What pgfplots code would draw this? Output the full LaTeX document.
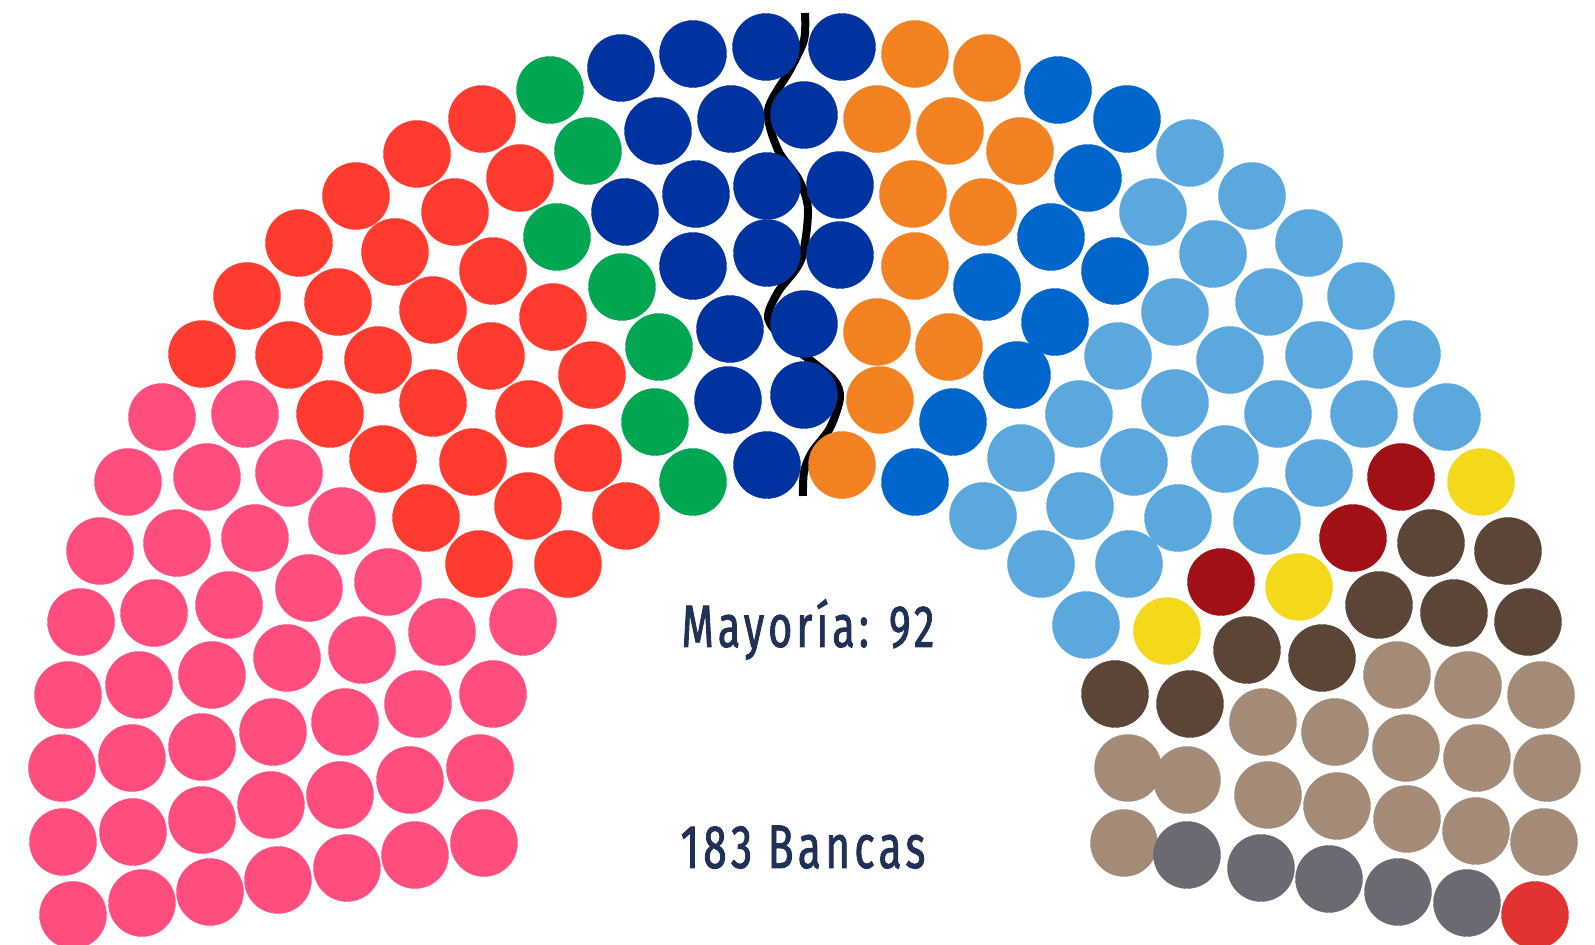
\documentclass[border=0pt]{standalone}
\usepackage{pgfplots}
\pgfplotsset{compat=1.18}
\usepackage{fontspec}
\newfontfamily\labfont{Fira Sans}[FakeStretch=0.69, LetterSpace=7, FakeBold=1.4]
\definecolor{cpink}{RGB}{255,77,126}
\definecolor{cred}{RGB}{255,58,46}
\definecolor{cgreen}{RGB}{0,166,81}
\definecolor{cdblue}{RGB}{0,51,160}
\definecolor{corange}{RGB}{242,129,34}
\definecolor{cmblue}{RGB}{0,102,204}
\definecolor{clblue}{RGB}{91,168,223}
\definecolor{cdred}{RGB}{160,16,21}
\definecolor{cyellow}{RGB}{244,216,27}
\definecolor{cbrown}{RGB}{91,69,55}
\definecolor{ctan}{RGB}{163,139,120}
\definecolor{cgray}{RGB}{107,106,114}
\definecolor{cbred}{RGB}{226,50,50}
\definecolor{navy}{RGB}{31,49,87}
\pgfplotsset{seat/.style={only marks, mark=*, mark size=3.35mm, mark options={solid, fill=#1, draw=#1, line width=0.1pt}}}
\begin{document}
\begin{tikzpicture}
\begin{axis}[
  scale only axis, width=15.95cm, height=9.45cm,
  xmin=0, xmax=1595, ymin=0, ymax=945, y dir=reverse,
  hide axis, clip=false,
]
\addplot[seat=cpink] coordinates {
(162,417) (245,414) (128,482) (207,477) (289,473) (100,551) (177,543) (255,538) (342,521)
(81,622) (154,613) (229,605) (309,588) (388,582) (68,695) (139,685) (212,675) (287,658)
(362,650) (442,632) (523,622) (62,768) (132,758) (202,747) (273,732) (345,722) (418,704)
(493,694) (63,842) (133,832) (202,820) (271,805) (340,795) (410,780) (480,768) (73,915)
(142,903) (210,892) (278,880) (347,868) (415,855) (484,843)};
\addplot[seat=cred] coordinates {
(482,119) (417,154) (520,178) (356,196) (455,212) (299,243) (395,252) (493,271) (247,296)
(338,302) (433,310) (553,317) (202,354) (289,355) (378,360) (491,356) (592,375) (330,414)
(433,403) (529,414) (383,459) (473,462) (588,458) (426,518) (528,506) (626,516) (479,564)
(568,564)};
\addplot[seat=cgreen] coordinates {
(550,90) (588,151) (557,237) (622,287) (659,347) (655,422) (693,482)};
\addplot[seat=cdblue] coordinates {
(621,68) (693,54) (766,47) (842,47) (658,131) (731,119) (804,115) (625,212) (696,194)
(767,186) (840,185) (693,266) (767,253) (840,255) (730,329) (804,324) (728,400) (804,395)
(767,465)};
\addplot[seat=corange] coordinates {
(915,54) (987,68) (877,119) (950,131) (1020,151) (913,194) (983,212) (915,266) (877,332)
(949,347) (880,400) (842,465)};
\addplot[seat=cmblue] coordinates {
(1058,90) (1127,119) (1088,178) (1051,237) (1115,271) (987,287) (1055,322) (1017,375)
(953,422) (915,482)};
\addplot[seat=clblue] coordinates {
(1190,153) (1252,196) (1309,243) (1361,296) (1407,354) (1447,417) (1153,212) (1213,254)
(1269,302) (1319,355) (1364,414) (1175,312) (1230,360) (1278,414) (1319,473) (1118,356)
(1175,403) (1225,459) (1267,521) (1079,414) (1134,462) (1178,518) (1021,458) (1080,506)
(1129,564) (983,516) (1041,564) (1086,625)};
\addplot[seat=cdred] coordinates {(1401,477) (1353,538) (1221,582)};
\addplot[seat=cyellow] coordinates {(1481,482) (1299,587) (1167,631)};
\addplot[seat=cbrown] coordinates {
(1431,543) (1508,551) (1379,605) (1454,613) (1528,622) (1247,650) (1322,658) (1115,694)
(1190,704)};
\addplot[seat=ctan] coordinates {
(1397,675) (1468,685) (1541,695) (1263,722) (1335,732) (1406,748) (1477,758) (1547,768)
(1128,768) (1187,780) (1268,795) (1337,806) (1407,819) (1476,831) (1544,842) (1124,843)};
\addplot[seat=cgray] coordinates {(1187,855) (1261,868) (1329,879) (1398,892) (1467,903)};
\addplot[seat=cbred] coordinates {(1535,915)};
% majority line
\addplot[smooth, white, line width=1.2mm] coordinates {
(805,13) (804,40) (790,70) (768,110) (778,150) (799,180) (808,210) (801,260) (778,292)
(768,318) (784,340) (810,360) (834,380) (840,398) (830,428) (812,452) (804,472) (803,496)};
\addplot[smooth, black, line width=0.8mm] coordinates {
(805,13) (804,40) (790,70) (768,110) (778,150) (799,180) (808,210) (801,260) (778,292)
(768,318) (784,340) (810,360) (834,380) (840,398) (830,428) (812,452) (804,472) (803,496)};
\node[anchor=base, text=navy, font=\labfont\fontsize{17}{19}\selectfont] at (axis cs:808,647) {Mayoría: 92};
\node[anchor=base, text=navy, font=\labfont\fontsize{17.5}{19}\selectfont] at (axis cs:803,868) {183 Bancas};
\end{axis}
\pgfresetboundingbox
\useasboundingbox (0,0) rectangle (15.95cm,9.45cm);
\end{tikzpicture}
\end{document}
